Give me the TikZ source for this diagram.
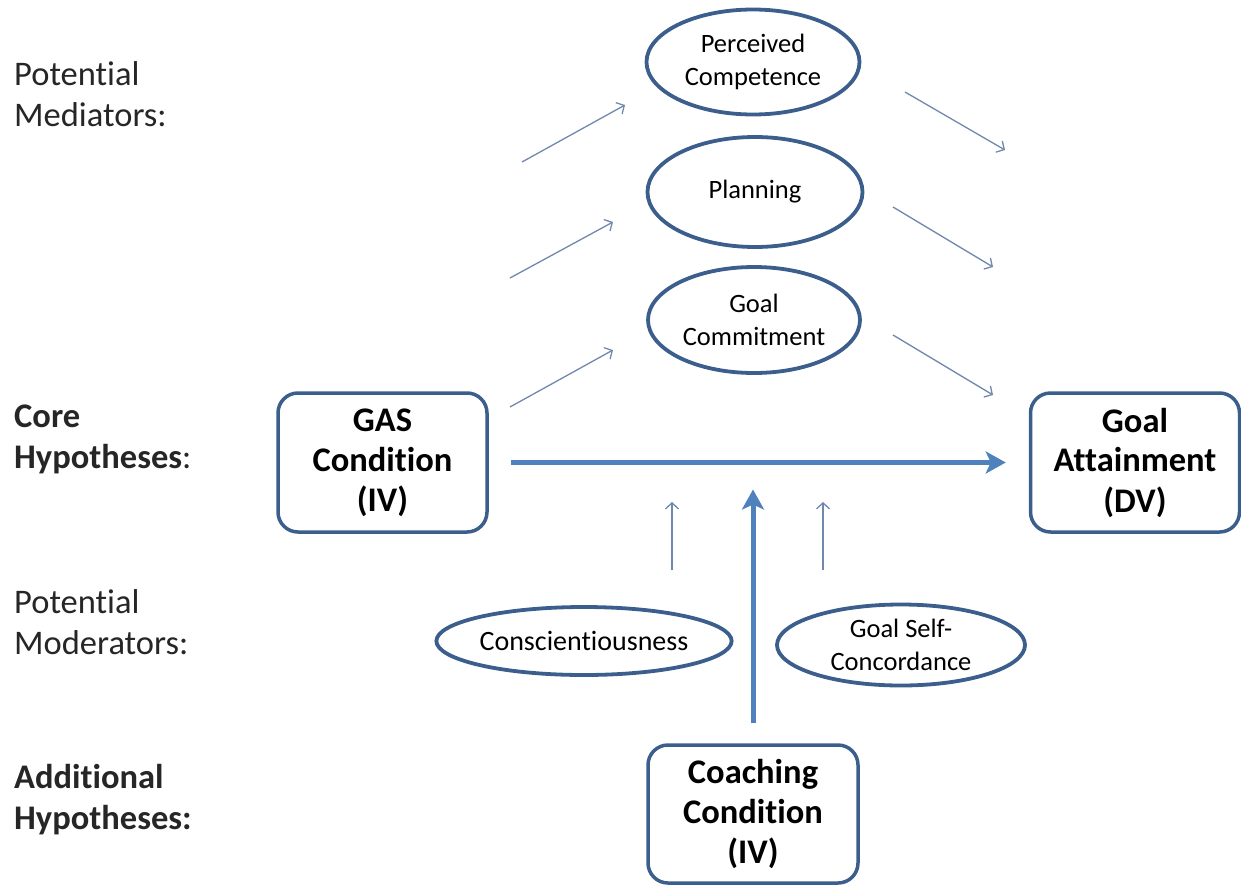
\documentclass[tikz,border=0pt]{standalone}
\usepackage{fontspec}
\setmainfont{Carlito}[Ligatures=NoCommon]
\usepackage{xcolor}
\usetikzlibrary{shapes.geometric, arrows.meta}

\definecolor{edgeblue}{HTML}{3B5E8C}
\definecolor{flowblue}{HTML}{4F81BD}
\definecolor{thinblue}{HTML}{7088AD}
\definecolor{labelgray}{HTML}{262626}

\tikzset{
  med/.style={ellipse, draw=edgeblue, line width=3.8pt, inner sep=0, align=center,
    font=\fontsize{26.5}{32.5}\selectfont},
  hyp/.style={rectangle, rounded corners=20pt, draw=edgeblue, line width=3.5pt, inner sep=0,
    minimum width=209pt, minimum height=139pt, align=center,
    font=\bfseries\fontsize{34.5}{40}\selectfont},
  lbl/.style={anchor=base west, align=left, inner sep=0, text=labelgray,
    font=\fontsize{34.5}{41}\selectfont},
  medarrow/.style={draw=thinblue, line width=1.3pt, -{Straight Barb[length=6pt, width=13pt]}},
  flow/.style={draw=flowblue, line width=5pt, -{Stealth[length=20pt, width=22pt, inset=5pt]}}
}

\begin{document}
\begin{tikzpicture}[x=1pt, y=-1pt]
  \useasboundingbox (0,0) rectangle (1241,886);

  % row labels
  \node [lbl] (potmed) at (14,126) {Potential\\Mediators:};
  \node [lbl] (core) at (14,468) {\textbf{Core}\\\textbf{Hypotheses}:};
  \node [lbl] (potmod) at (14,654) {Potential\\Moderators:};
  \node [lbl, font=\bfseries\fontsize{34.5}{41}\selectfont] (addhyp) at (14,829) {Additional\\Hypotheses:};

  % mediators
  \node [med, minimum width=213pt, minimum height=105pt] (pc) at (753,62) {Perceived\\Competence};
  \node [med, minimum width=215pt, minimum height=110pt] (plan) at (755,192) {Planning};
  \node [med, minimum width=212pt, minimum height=106pt] (gc) at (754,320) {Goal\\Commitment};

  % core
  \node [hyp] (gas) at (382.5,462.5) {GAS\\Condition\\(IV)};
  \node [hyp] (ga) at (1135,462.5) {Goal\\Attainment\\(DV)};
  \draw [flow, shorten <=22pt, shorten >=23pt] (gas) -- (ga);

  % moderators
  \node [med, minimum width=294pt, minimum height=68pt, font=\fontsize{28}{34}\selectfont] (cons) at (584,641) {Conscientiousness};
  \node [med, minimum width=248pt, minimum height=81pt] (gsc) at (901,645) {Goal Self-\\Concordance};
  \node [hyp, minimum width=210pt, minimum height=138pt] (coach) at (753,814) {Coaching\\Condition\\(IV)};
  \draw [flow, shorten <=20pt, shorten >=27pt] (coach) -- (coach |- gas);

  % small arrows
  \coordinate (pcin) at (522,162);   \coordinate (pcinend) at (625,105);
  \coordinate (planin) at (510,278); \coordinate (planinend) at (613,222);
  \coordinate (gcin) at (510,407);   \coordinate (gcinend) at (613,350);
  \coordinate (pcout) at (905,92);   \coordinate (pcoutend) at (1005,150);
  \coordinate (planout) at (893,207); \coordinate (planoutend) at (993,267);
  \coordinate (gcout) at (893,335);  \coordinate (gcoutend) at (993,395);
  \coordinate (consup) at (672,570); \coordinate (consupend) at (672,502);
  \coordinate (gscup) at (823,570);  \coordinate (gscupend) at (823,502);
  \draw [medarrow] (pcin) -- (pcinend);
  \draw [medarrow] (planin) -- (planinend);
  \draw [medarrow] (gcin) -- (gcinend);
  \draw [medarrow] (pcout) -- (pcoutend);
  \draw [medarrow] (planout) -- (planoutend);
  \draw [medarrow] (gcout) -- (gcoutend);
  \draw [medarrow] (consup) -- (consupend);
  \draw [medarrow] (gscup) -- (gscupend);
\end{tikzpicture}
\end{document}
